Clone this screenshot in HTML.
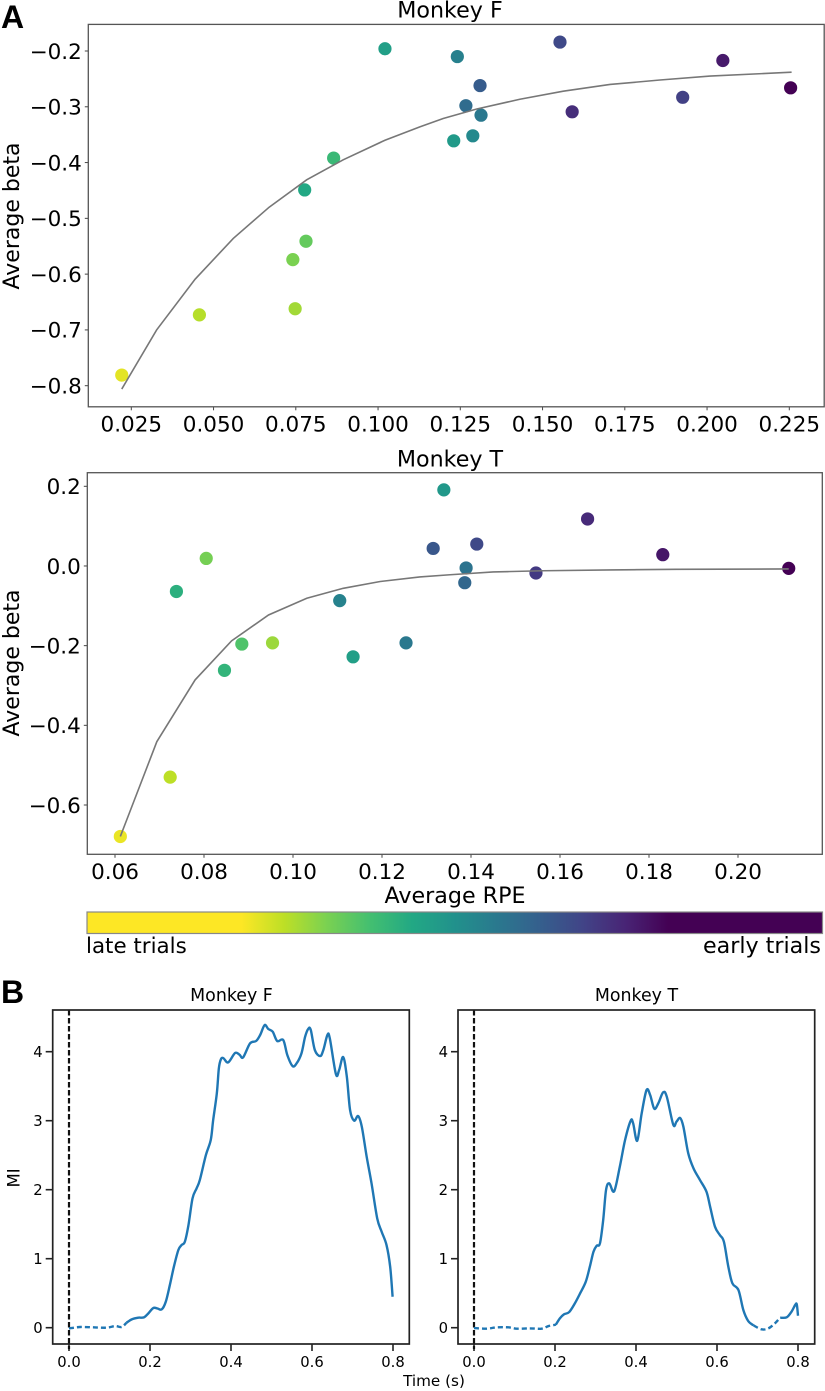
<!DOCTYPE html>
<html lang="en">
<head>
<meta charset="utf-8">
<title>Average beta vs RPE and MI over time</title>
<style>
  html, body { margin: 0; padding: 0; background: #fff; }
  body { width: 825px; height: 1391px; overflow: hidden; }
  svg { display: block; filter: blur(0.35px); }
  text { font-family: "DejaVu Sans", "Liberation Sans", sans-serif; fill: #000; }
  .letter { font-family: "Liberation Sans", sans-serif; font-weight: 700; font-size: 32px; fill: #000; }
</style>
</head>
<body>
<svg id="figure" xmlns="http://www.w3.org/2000/svg" width="825" height="1391" viewBox="0 0 825 1391">
  <text class="letter" x="1" y="28">A</text>
  <text class="letter" x="1" y="1003">B</text>
  <text x="455" y="903" font-size="22.2" text-anchor="middle">Average RPE</text>
  <text x="86" y="953" font-size="21.4">late trials</text>
  <text x="821" y="953" font-size="22.2" text-anchor="end">early trials</text>
  <text x="434" y="1386" font-size="15.2" text-anchor="middle">Time (s)</text>
  <text transform="translate(19.5 1178) rotate(-90)" font-size="16.5" text-anchor="middle">MI</text>
</svg>
<script>
// ---------- Monkey F scatter ----------
const fRpe = [0.0221, 0.0457, 0.0748, 0.0741, 0.0781, 0.0777, 0.0865, 0.1021, 0.1241, 0.1310, 0.1267, 0.1313, 0.1288, 0.1230, 0.1553, 0.1590, 0.1926, 0.2048, 0.2254];
const fBeta = [-0.781, -0.673, -0.662, -0.574, -0.541, -0.449, -0.392, -0.196, -0.210, -0.262, -0.298, -0.315, -0.352, -0.361, -0.184, -0.309, -0.283, -0.217, -0.266];
const fTrialPhase = [0.96, 0.89, 0.86, 0.80, 0.76, 0.60, 0.67, 0.56, 0.43, 0.29, 0.35, 0.40, 0.47, 0.54, 0.22, 0.13, 0.19, 0.07, 0.00];
const fFitRpe = [0.0221, 0.0327, 0.0444, 0.0560, 0.0669, 0.0783, 0.0894, 0.1021, 0.1127, 0.1198, 0.1300, 0.1431, 0.1563, 0.1705, 0.1857, 0.2009, 0.2257];
const fFitBeta = [-0.806, -0.700, -0.609, -0.536, -0.480, -0.431, -0.395, -0.360, -0.336, -0.321, -0.3040, -0.2865, -0.272, -0.260, -0.252, -0.245, -0.238];
const fXTicks = [0.025, 0.05, 0.075, 0.1, 0.125, 0.15, 0.175, 0.2, 0.225];
const fXTickLabels = ['0.025', '0.050', '0.075', '0.100', '0.125', '0.150', '0.175', '0.200', '0.225'];
const fYTicks = [-0.2, -0.3, -0.4, -0.5, -0.6, -0.7, -0.8];
const fYTickLabels = ['\u22120.2', '\u22120.3', '\u22120.4', '\u22120.5', '\u22120.6', '\u22120.7', '\u22120.8'];

// ---------- Monkey T scatter ----------
const tRpe = [0.0612, 0.0724, 0.0738, 0.0805, 0.0846, 0.0885, 0.0954, 0.1105, 0.1135, 0.1254, 0.1339, 0.1315, 0.1413, 0.1389, 0.1386, 0.1546, 0.1662, 0.1831, 0.2114];
const tBeta = [-0.679, -0.530, -0.064, 0.019, -0.262, -0.196, -0.193, -0.087, -0.228, -0.193, 0.191, 0.044, 0.055, -0.005, -0.042, -0.0176, 0.118, 0.0284, -0.006];
const tTrialPhase = [0.97, 0.90, 0.63, 0.79, 0.65, 0.72, 0.85, 0.44, 0.56, 0.40, 0.53, 0.27, 0.22, 0.38, 0.33, 0.17, 0.12, 0.06, 0.00];
const tFitRpe = [0.0612, 0.0694, 0.0780, 0.0862, 0.0945, 0.1031, 0.1113, 0.1196, 0.1285, 0.1353, 0.1450, 0.1562, 0.1712, 0.1862, 0.2114];
const tFitBeta = [-0.679, -0.441, -0.286, -0.188, -0.123, -0.081, -0.056, -0.039, -0.0276, -0.022, -0.015, -0.012, -0.010, -0.0083, -0.0075];
const tXTicks = [0.06, 0.08, 0.1, 0.12, 0.14, 0.16, 0.18, 0.2];
const tXTickLabels = ['0.06', '0.08', '0.10', '0.12', '0.14', '0.16', '0.18', '0.20'];
const tYTicks = [0.2, 0, -0.2, -0.4, -0.6];
const tYTickLabels = ['0.2', '0.0', '\u22120.2', '\u22120.4', '\u22120.6'];

// ---------- MI time courses ----------
const miFTime = [0, .027, .060, .093, .114, .130, .142, .155, .171, .185, .196, .208, .218, .229, .239, .249, .259, .270, .278, .286, .295, .305, .315, .323, .338, .350, .356, .365, .370, .375, .381, .393, .410, .421, .430, .447, .462, .472, .483, .492, .503, .514, .529, .539, .552, .562, .574, .583, .591, .597, .607, .620, .628, .638, .644, .659, .667, .677, .686, .694, .704, .714, .723, .735, .747, .761, .772, .784, .793, .799];
const miFValue = [-.01, .01, .005, 0, .024, .01, .072, .121, .145, .15, .208, .285, .28, .266, .377, .618, .884, 1.126, 1.198, 1.246, 1.488, 1.874, 2.019, 2.14, 2.502, 2.72, 3.01, 3.396, 3.758, 3.889, 3.908, 3.845, 3.981, 3.957, 3.918, 4.121, 4.155, 4.242, 4.386, 4.329, 4.29, 4.155, 4.169, 3.952, 3.792, 3.831, 3.976, 4.217, 4.333, 4.314, 4.024, 3.937, 4.024, 4.242, 4.193, 3.676, 3.734, 3.923, 3.638, 3.155, 3.0, 3.068, 2.913, 2.478, 2.092, 1.585, 1.391, 1.198, .884, .449];
const miFSignificantFrom = [0.142];
const miFSignificantTo = [0.8];
const miTTime = [0, .031, .056, .085, .105, .138, .167, .184, .202, .212, .222, .235, .249, .262, .276, .286, .295, .303, .311, .319, .326, .334, .346, .360, .373, .387, .393, .403, .414, .426, .435, .445, .455, .467, .476, .492, .500, .509, .517, .529, .542, .558, .574, .583, .595, .607, .617, .628, .638, .653, .665, .677, .690, .710, .727, .743, .756, .772, .784, .793, .797, .800];
const miTValue = [-.005, -.014, .005, .005, -.014, -.01, -.014, .024, .043, .135, .193, .227, .353, .498, .667, .884, 1.101, 1.188, 1.222, 1.56, 1.995, 2.092, 1.976, 2.333, 2.72, 3.0, 2.961, 2.71, 3.106, 3.444, 3.372, 3.174, 3.251, 3.411, 3.348, 2.942, 2.986, 3.039, 2.913, 2.527, 2.309, 2.14, 1.971, 1.754, 1.464, 1.343, 1.246, .884, .643, .546, .256, .097, .034, -.024, -.01, .063, .145, .15, .232, .329, .338, .174];
const miTSignificantFrom = [0.202, 0.756];
const miTSignificantTo = [0.677, 0.8];
const miXTicks = [0, 0.2, 0.4, 0.6, 0.8];
const miXTickLabels = ['0.0', '0.2', '0.4', '0.6', '0.8'];
const miYTicks = [0, 1, 2, 3, 4];
const miYTickLabels = ['0', '1', '2', '3', '4'];

// ---------- colour scale ----------
const viridisStops = ['#440154', '#482475', '#414487', '#355f8d', '#2a788e', '#21918c', '#22a884', '#44bf70', '#7ad151', '#bddf26', '#fde725'];

const NS = 'http://www.w3.org/2000/svg';
const fig = document.getElementById('figure');

function el(parent, tag, attrs, txt) {
  const n = document.createElementNS(NS, tag);
  for (const k in attrs) n.setAttribute(k, attrs[k]);
  if (txt !== undefined) n.textContent = txt;
  parent.appendChild(n);
  return n;
}
function linear(d0, d1, r0, r1) {
  return v => r0 + (v - d0) * (r1 - r0) / (d1 - d0);
}
function viridis(t) {
  const c = Math.max(0, Math.min(1, t)) * (viridisStops.length - 1);
  const i = Math.min(Math.floor(c), viridisStops.length - 2);
  const f = c - i;
  const a = viridisStops[i], b = viridisStops[i + 1];
  const ch = s => [1, 3, 5].map(p => parseInt(s.substr(p, 2), 16));
  const ca = ch(a), cb = ch(b);
  return 'rgb(' + ca.map((x, j) => Math.round(x + (cb[j] - x) * f)).join(',') + ')';
}
function catmull(pts) {
  let d = 'M' + pts[0][0].toFixed(2) + ' ' + pts[0][1].toFixed(2);
  for (let i = 0; i < pts.length - 1; i++) {
    const p0 = pts[Math.max(0, i - 1)], p1 = pts[i], p2 = pts[i + 1], p3 = pts[Math.min(pts.length - 1, i + 2)];
    const c1x = p1[0] + (p2[0] - p0[0]) / 6, c1y = p1[1] + (p2[1] - p0[1]) / 6;
    const c2x = p2[0] - (p3[0] - p1[0]) / 6, c2y = p2[1] - (p3[1] - p1[1]) / 6;
    d += 'C' + c1x.toFixed(2) + ' ' + c1y.toFixed(2) + ' ' + c2x.toFixed(2) + ' ' + c2y.toFixed(2) + ' ' + p2[0].toFixed(2) + ' ' + p2[1].toFixed(2);
  }
  return d;
}

// ---------- scatter panel ----------
function scatterPanel(key, title, box, xScale, yScale, xs, ys, phase, fitX, fitY, xT, xL, yT, yL) {
  const g = el(fig, 'g', {});
  
  

  const t = el(g, 'text', { x: 450, y: box.titleY, 'font-size': 22.2, 'text-anchor': 'middle' }, title);
  
  

  const yTitle = el(g, 'text', { transform: 'translate(19 ' + box.yTitleC + ') rotate(-90)', 'font-size': 22, 'text-anchor': 'middle' }, 'Average beta');
  
  

  xT.forEach((v, i) => {
    const x = xScale(v);
    const tick = el(g, 'line', { x1: x, x2: x, y1: box.b, y2: box.b + 3.5, stroke: '#444', 'stroke-width': 1 });
    
    
    const lab = el(g, 'text', { x: x, y: box.b + 24.5, 'font-size': 21.5, 'text-anchor': 'middle' }, xL[i]);
    
    
  });
  yT.forEach((v, i) => {
    const y = yScale(v);
    const tick = el(g, 'line', { x1: box.l - 3.5, x2: box.l, y1: y, y2: y, stroke: '#444', 'stroke-width': 1 });
    
    
    const lab = el(g, 'text', { x: box.l - 6.5, y: y + 7.8, 'font-size': 21.5, 'text-anchor': 'end' }, yL[i]);
    
    
  });

  xs.forEach((v, i) => {
    const c = el(g, 'circle', { cx: xScale(v), cy: yScale(ys[i]), r: 6.6, fill: viridis(phase[i]) });
    
    
  });

  const fit = el(g, 'polyline', {
    points: fitX.map((v, i) => xScale(v).toFixed(2) + ',' + yScale(fitY[i]).toFixed(2)).join(' '),
    fill: 'none', stroke: '#777', 'stroke-width': 1.6
  });
  
  

  const frame = el(g, 'rect', { x: box.l, y: box.t, width: box.r - box.l, height: box.b - box.t, fill: 'none', stroke: '#555', 'stroke-width': 1.3 });
  
  
}

scatterPanel('monkey-f', 'Monkey F',
  { l: 88.3, r: 824.2, t: 24.4, b: 406.8, titleY: 17.5, yTitleC: 216 },
  linear(0.025, 0.225, 131.3, 789.3), linear(-0.2, -0.8, 51, 385.7),
  fRpe, fBeta, fTrialPhase, fFitRpe, fFitBeta, fXTicks, fXTickLabels, fYTicks, fYTickLabels);

scatterPanel('monkey-t', 'Monkey T',
  { l: 87.3, r: 822.3, t: 472.7, b: 854.3, titleY: 466.5, yTitleC: 663 },
  linear(0.06, 0.20, 115, 738), linear(0.2, -0.6, 486.3, 805),
  tRpe, tBeta, tTrialPhase, tFitRpe, tFitBeta, tXTicks, tXTickLabels, tYTicks, tYTickLabels);

// ---------- colour bar ----------
const defs = el(fig, 'defs', {});
const grad = el(defs, 'linearGradient', { id: 'viridis-bar', x1: 0, x2: 1, y1: 0, y2: 0 });
el(grad, 'stop', { offset: 0, 'stop-color': viridis(1) });
for (let i = 0; i <= 20; i++) {
  el(grad, 'stop', { offset: 0.21 + (0.79 - 0.21) * i / 20, 'stop-color': viridis(1 - i / 20) });
}
el(grad, 'stop', { offset: 1, 'stop-color': viridis(0) });
const bar = el(fig, 'rect', { x: 87, y: 912, width: 735.5, height: 21.5, fill: 'url(#viridis-bar)', stroke: '#888', 'stroke-width': 1.2 });



// ---------- MI panels ----------
function miPanel(key, title, box, times, values, sigFrom, sigTo) {
  const xScale = linear(0, 0.8, box.x0, box.x0 + 324);
  const yScale = linear(0, 4, 1327.7, 1051.7);
  const g = el(fig, 'g', {});
  
  

  const t = el(g, 'text', { x: box.x0 + 162.5, y: 1000.8, 'font-size': 17.4, 'text-anchor': 'middle' }, title);
  
  

  miXTicks.forEach((v, i) => {
    const x = xScale(v);
    const tick = el(g, 'line', { x1: x, x2: x, y1: box.b, y2: box.b + 7, stroke: '#222', 'stroke-width': 1.6 });
    
    
    const lab = el(g, 'text', { x: x, y: 1366.8, 'font-size': 14.8, 'text-anchor': 'middle' }, miXTickLabels[i]);
    
    
  });
  miYTicks.forEach((v, i) => {
    const y = yScale(v);
    const tick = el(g, 'line', { x1: box.l - 7, x2: box.l, y1: y, y2: y, stroke: '#222', 'stroke-width': 1.6 });
    
    
    const lab = el(g, 'text', { x: box.l - 10, y: y + 5.4, 'font-size': 14.8, 'text-anchor': 'end' }, miYTickLabels[i]);
    
    
  });

  const onset = el(g, 'line', { x1: xScale(0), x2: xScale(0), y1: 1010, y2: 1349, stroke: '#111', 'stroke-width': 2.2, 'stroke-dasharray': '5.5 2.5' });
  
  

  // split the trace into significant (solid) and non-significant (dashed) runs
  const isSig = tv => sigFrom.some((f, i) => tv >= f && tv <= sigTo[i]);
  let run = [];
  const flush = (sig) => {
    if (run.length < 2) return;
    const attrs = { d: catmull(run), fill: 'none', stroke: '#1f77b4', 'stroke-width': 2.4, 'stroke-linejoin': 'round' };
    if (!sig) attrs['stroke-dasharray'] = '5 3';
    const p = el(g, 'path', attrs);
    
    
  };
  let state = isSig(times[0]);
  times.forEach((tv, i) => {
    const pt = [xScale(tv), yScale(values[i])];
    const s = isSig(tv);
    if (s !== state) {
      run.push(pt);
      flush(state);
      run = [];
      state = s;
    }
    run.push(pt);
  });
  flush(state);

  const frame = el(g, 'rect', { x: box.l, y: 1010, width: box.r - box.l, height: 334, fill: 'none', stroke: '#222', 'stroke-width': 1.7 });
  
  
}

miPanel('monkey-f', 'Monkey F', { x0: 69, l: 52.7, r: 409.3, b: 1344 }, miFTime, miFValue, miFSignificantFrom, miFSignificantTo);
miPanel('monkey-t', 'Monkey T', { x0: 474, l: 458, r: 814.7, b: 1344 }, miTTime, miTValue, miTSignificantFrom, miTSignificantTo);
</script>
</body>
</html>
